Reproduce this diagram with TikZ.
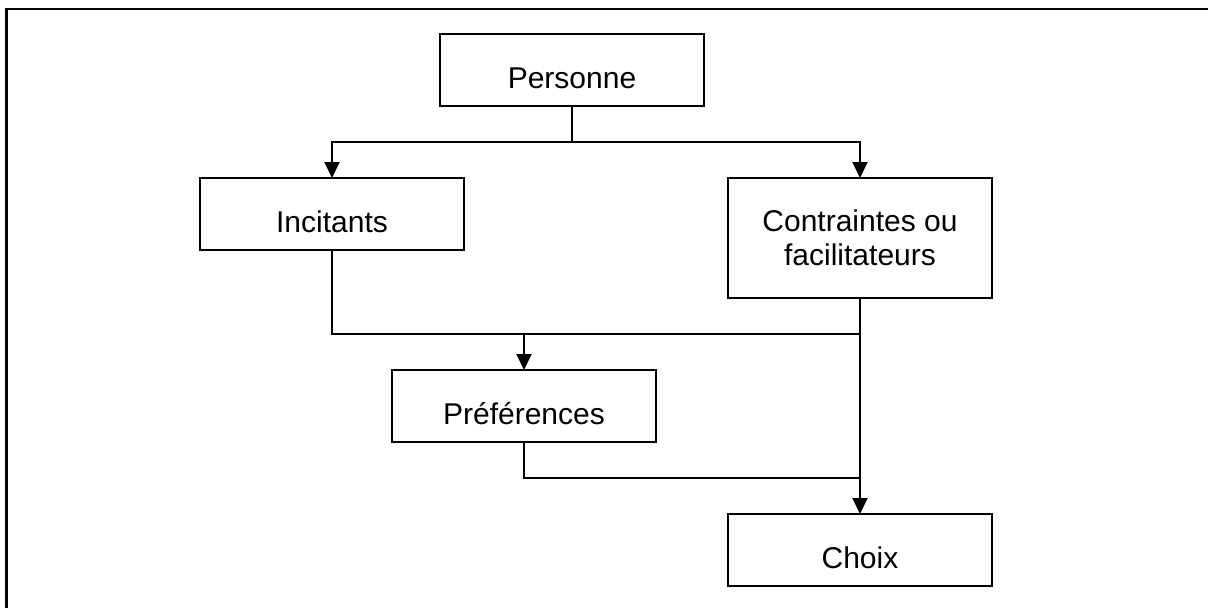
\documentclass[tikz,border=0pt]{standalone}
\usepackage{fontspec}
\setmainfont{Liberation Sans}
\usetikzlibrary{arrows.meta}
\begin{document}
\begin{tikzpicture}[x=0.4pt,y=-0.4pt,>={Triangle[length=6.4pt,width=6pt]},line join=miter,
	font=\fontsize{12}{13.8}\selectfont,
	box/.style={draw,line width=.75pt,minimum width=105.6pt,minimum height=28.8pt,inner sep=0pt,outer sep=0pt},
	oneline/.style={text height=21.8pt,text depth=7pt},
	link/.style={line width=.75pt}]
	\useasboundingbox (0,0) rectangle (1208,608);
	\draw[line width=1pt] (6.5,608)--(6.5,9)--(1208,9);
	\node[box,oneline] (pers) at (572,70) {Personne};
	\node[box,oneline] (inc) at (332,214) {Incitants};
	\node[box,minimum height=48pt,align=center] (contr) at (860,238) {Contraintes ou\\facilitateurs};
	\node[box,oneline] (pref) at (524,406) {Préférences};
	\node[box,oneline] (choix) at (860,550) {Choix};
	\coordinate (fork) at (572,142);
	\coordinate (join1) at (860,334);
	\coordinate (join2) at (860,478);
	\draw[link] (pers)--(fork);
	\draw[link,->] (fork) -| (inc);
	\draw[link,->] (fork) -| (contr);
	\draw[link] (inc) |- (join1);
	\draw[link,->] (pref.north |- join1)--(pref);
	\draw[link] (pref) |- (join2);
	\draw[link,->] (contr)--(choix);
\end{tikzpicture}
\end{document}
